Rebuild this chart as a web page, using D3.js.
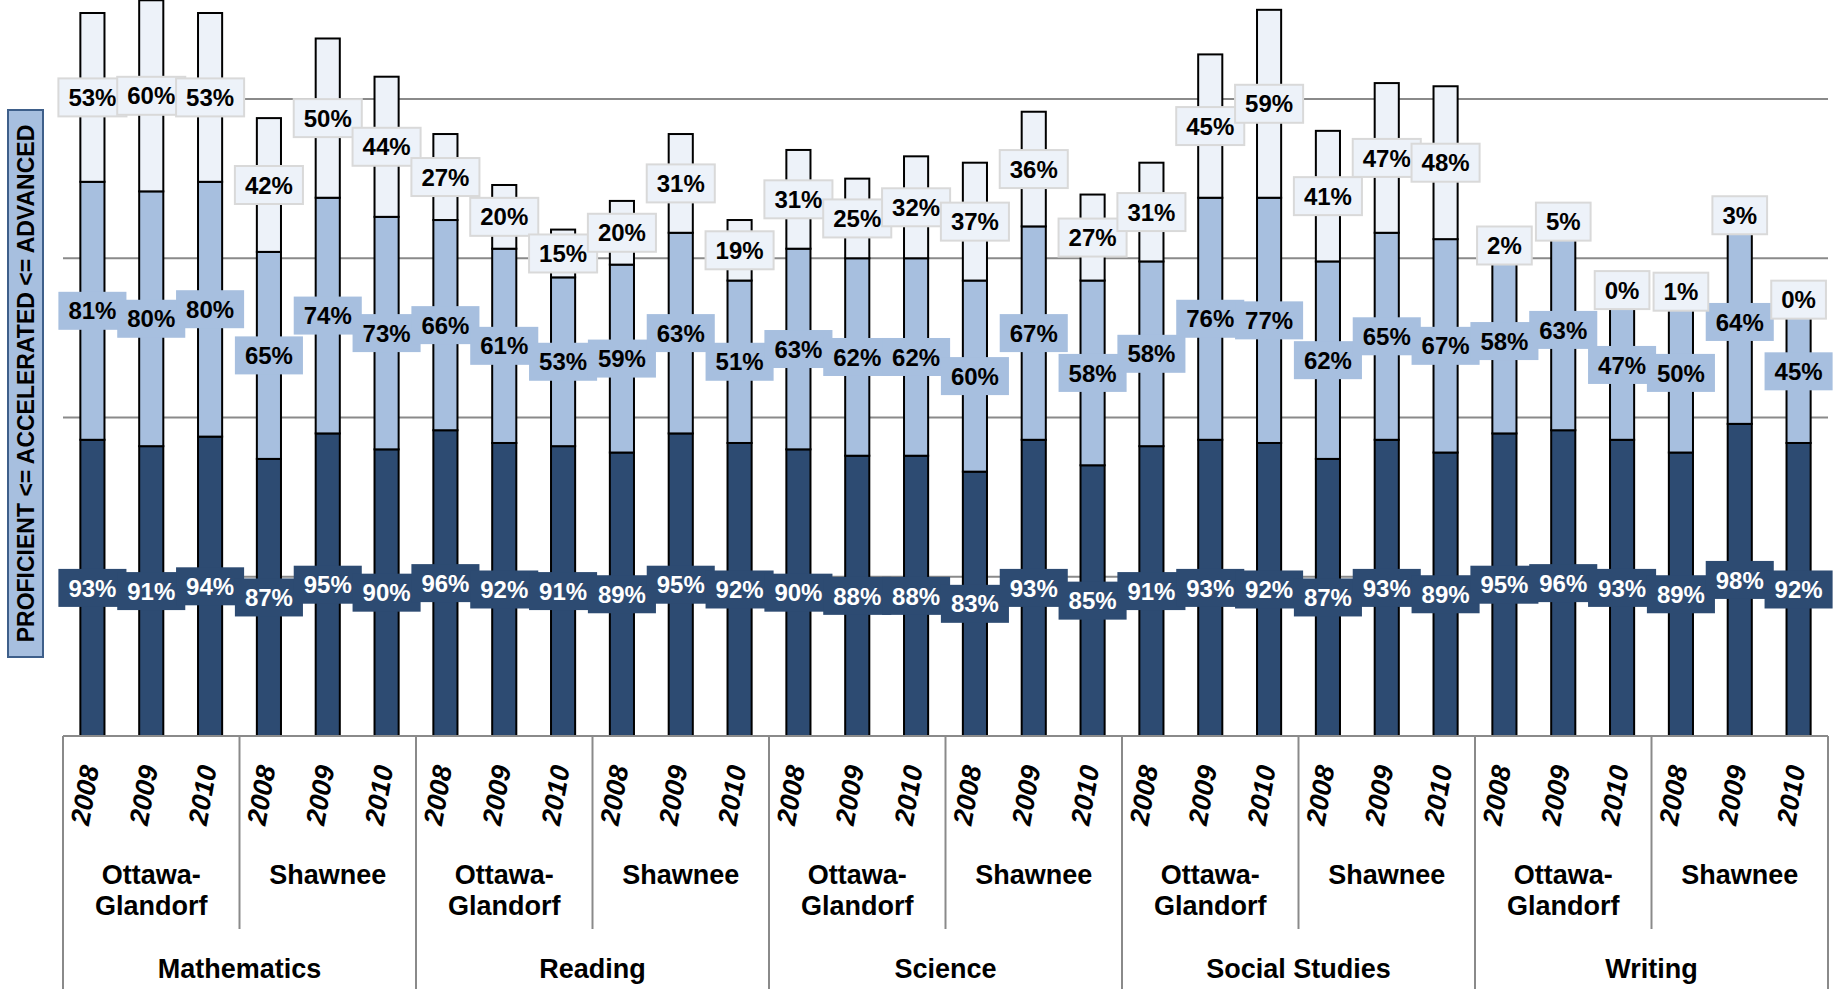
<!DOCTYPE html>
<html><head><meta charset="utf-8">
<script src="https://cdn.jsdelivr.net/npm/d3@7"></script>
<style>html,body{margin:0;padding:0;background:#fff;}svg{display:block;}</style>
</head><body>
<script>
const subjects = ["Mathematics","Reading","Science","Social Studies","Writing"];
const schools = ["Ottawa-Glandorf","Shawnee"];
const years = ["2008","2009","2010"];
const proficient  = [93,91,94,87,95,90, 96,92,91,89,95,92, 90,88,88,83,93,85, 91,93,92,87,93,89, 95,96,93,89,98,92];
const accelerated = [81,80,80,65,74,73, 66,61,53,59,63,51, 63,62,62,60,67,58, 58,76,77,62,65,67, 58,63,47,50,64,45];
const advanced    = [53,60,53,42,50,44, 27,20,15,20,31,19, 31,25,32,37,36,27, 31,45,59,41,47,48,  2, 5, 0, 1, 3, 0];
const yTicks = [50,100,150,200];
const yTitle = "PROFICIENT <= ACCELERATED <= ADVANCED";

const W = 1837, H = 989;
const FONT = "'Liberation Sans', Arial, sans-serif";
const colors = {dark:"#2d4b72", mid:"#a7bfdf", light:"#edf2f9"};

// build categories
const cats = [];
subjects.forEach(s => schools.forEach(sc => years.forEach(y => cats.push({subject:s, school:sc, year:y}))));
cats.forEach((c,i) => { c.id = i; c.p = proficient[i]; c.a = accelerated[i]; c.v = advanced[i]; });

const svg = d3.select("body").append("svg").attr("width", W).attr("height", H);

const x = d3.scaleBand().domain(cats.map(c=>c.id)).range([63, 1828]);
const y = d3.scaleLinear().domain([0,200]).range([736, 99]);
const bw = x.bandwidth() * 0.41;

// gridlines
svg.append("g").selectAll("line").data(yTicks).join("line")
  .attr("x1", 63).attr("x2", 1828)
  .attr("y1", d=>y(d)).attr("y2", d=>y(d))
  .attr("stroke", "#8a8a8a").attr("stroke-width", 2);

// stacked segments
const series = [
  {key:"p", color:colors.dark, text:"#fff", border:null},
  {key:"a", color:colors.mid, text:"#000", border:null},
  {key:"v", color:colors.light, text:"#000", border:"#d9d9d9"}
];
const segs = [];
cats.forEach(c => {
  let base = 0;
  series.forEach((s,si) => {
    const v = c[s.key];
    segs.push({c, si, s, v, y0: base, y1: base + v});
    base += v;
  });
});

const gBars = svg.append("g");
gBars.selectAll("rect").data(segs).join("rect")
  .attr("x", d => x(d.c.id) + (x.bandwidth()-bw)/2)
  .attr("width", bw)
  .attr("y", d => y(d.y1))
  .attr("height", d => y(d.y0) - y(d.y1))
  .attr("fill", d => d.s.color)
  .attr("stroke", "#000").attr("stroke-width", 2);

// labels
const gLab = svg.append("g");
const fs = 24, bh = 38, padX = 10;
series.forEach((s,si) => {
  segs.filter(d => d.si === si).forEach(d => {
    const cx = x(d.c.id) + x.bandwidth()/2;
    const cy = (y(d.y0) + y(d.y1))/2;
    const g = gLab.append("g");
    const t = g.append("text").attr("x", cx).attr("y", cy).attr("dy", "0.36em")
      .attr("text-anchor","middle").attr("font-family",FONT).attr("font-weight","bold")
      .attr("font-size", fs).attr("fill", s.text).text(d.v + "%");
    const tw = t.node().getComputedTextLength();
    g.insert("rect","text")
      .attr("x", cx - tw/2 - padX).attr("y", cy - bh/2)
      .attr("width", tw + 2*padX).attr("height", bh)
      .attr("fill", s.color)
      .attr("stroke", s.border || "none").attr("stroke-width", s.border ? 2 : 0);
  });
});

// axis lines
const axisColor = "#8a8a8a";
const gAx = svg.append("g");
gAx.append("line").attr("x1",63).attr("x2",1828).attr("y1",736).attr("y2",736)
  .attr("stroke",axisColor).attr("stroke-width",2);
// subject boundaries
for (let i = 0; i <= subjects.length; i++) {
  const xx = i < subjects.length ? x(i*6) : 1828;
  gAx.append("line").attr("x1",xx).attr("x2",xx).attr("y1",736).attr("y2",H)
    .attr("stroke",axisColor).attr("stroke-width",2);
}
// school boundaries
for (let i = 0; i < subjects.length; i++) {
  const xx = x(i*6+3);
  gAx.append("line").attr("x1",xx).attr("x2",xx).attr("y1",736).attr("y2",929)
    .attr("stroke",axisColor).attr("stroke-width",2);
}

// year labels
svg.append("g").selectAll("text").data(cats).join("text")
  .attr("transform", c => `translate(${x(c.id)+x.bandwidth()/2 - 8},795) rotate(-80)`)
  .attr("text-anchor","middle").attr("dy","0.36em")
  .attr("font-family",FONT).attr("font-weight","bold").attr("font-style","italic").attr("font-size",27)
  .text(c => c.year);

// school labels
const schoolGroups = [];
subjects.forEach((s,si) => schools.forEach((sc,ki) => schoolGroups.push({name:sc, start:si*6+ki*3})));
const gS = svg.append("g");
schoolGroups.forEach(g => {
  const cx = (x(g.start) + x(g.start+2) + x.bandwidth())/2;
  const parts = g.name === "Ottawa-Glandorf" ? ["Ottawa-","Glandorf"] : [g.name];
  parts.forEach((p,i) => {
    gS.append("text").attr("x",cx).attr("y",884 + i*31).attr("text-anchor","middle")
      .attr("font-family",FONT).attr("font-weight","bold").attr("font-size",27).text(p);
  });
});

// subject labels
svg.append("g").selectAll("text").data(subjects).join("text")
  .attr("x", (s,i) => (x(i*6) + x(i*6+5) + x.bandwidth())/2)
  .attr("y", 978).attr("text-anchor","middle")
  .attr("font-family",FONT).attr("font-weight","bold").attr("font-size",27)
  .text(s => s);

// y title
svg.append("rect").attr("x",8).attr("y",110).attr("width",35).attr("height",547)
  .attr("fill",colors.mid).attr("stroke","#3e5f8a").attr("stroke-width",2);
svg.append("text").attr("transform","translate(26,383.5) rotate(-90)")
  .attr("text-anchor","middle").attr("dy","0.36em")
  .attr("font-family",FONT).attr("font-weight","bold").attr("font-size",23)
  .text(yTitle);
</script>
</body></html>
